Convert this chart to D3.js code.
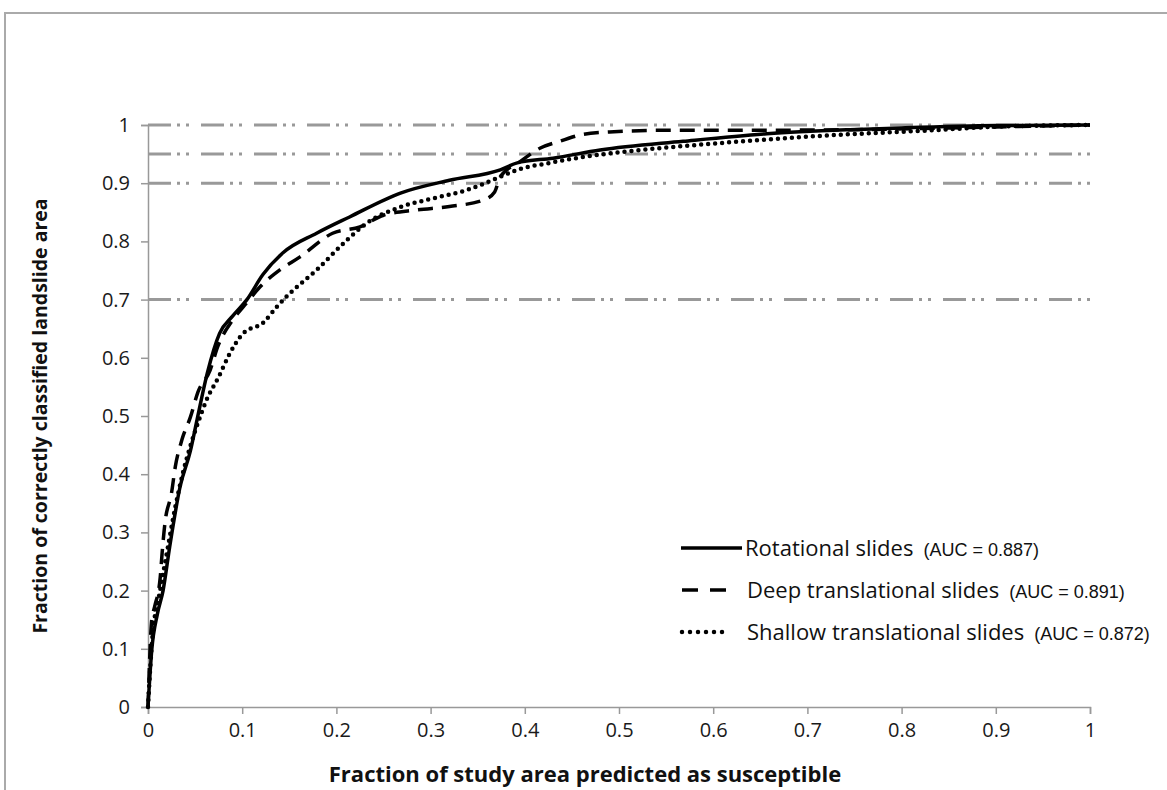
<!DOCTYPE html>
<html>
<head>
<meta charset="utf-8">
<script src="https://cdn.jsdelivr.net/npm/d3@7"></script>
<style>
  body { margin: 0; background: #fff; }
  svg { display: block; font-family: "Open Sans", sans-serif; }
</style>
</head>
<body>
<svg width="1167" height="790"></svg>
<script>
// ROC-style success curves
const rotX = [0, 0.004, 0.010, 0.016, 0.023, 0.034, 0.045, 0.052, 0.063, 0.076, 0.090, 0.105, 0.122, 0.143, 0.179, 0.214, 0.268, 0.32, 0.374, 0.392, 0.43, 0.48, 0.568, 0.657, 0.745, 0.8, 0.9, 1];
const rotY = [0, 0.098, 0.16, 0.20, 0.275, 0.378, 0.44, 0.493, 0.574, 0.642, 0.672, 0.70, 0.743, 0.78, 0.814, 0.842, 0.883, 0.905, 0.923, 0.935, 0.943, 0.957, 0.972, 0.985, 0.992, 0.995, 0.999, 1];

const deepX = [0, 0.004, 0.007, 0.013, 0.015, 0.018, 0.025, 0.029, 0.036, 0.045, 0.053, 0.066, 0.074, 0.09, 0.105, 0.119, 0.14, 0.161, 0.196, 0.225, 0.25, 0.285, 0.32, 0.356, 0.368, 0.374, 0.395, 0.416, 0.437, 0.462, 0.49, 0.55, 0.64, 0.75, 0.85, 1];
const deepY = [0, 0.15, 0.172, 0.223, 0.265, 0.316, 0.368, 0.413, 0.459, 0.498, 0.541, 0.579, 0.619, 0.665, 0.695, 0.722, 0.751, 0.773, 0.814, 0.825, 0.845, 0.854, 0.86, 0.871, 0.885, 0.911, 0.937, 0.96, 0.972, 0.984, 0.988, 0.991, 0.991, 0.992, 0.995, 1];

const shalX = [0, 0.005, 0.011, 0.02, 0.029, 0.037, 0.046, 0.053, 0.062, 0.075, 0.087, 0.101, 0.122, 0.137, 0.147, 0.179, 0.211, 0.232, 0.268, 0.303, 0.338, 0.374, 0.392, 0.427, 0.462, 0.5, 0.6, 0.7, 0.833, 0.9, 1];
const shalY = [0, 0.127, 0.184, 0.265, 0.344, 0.402, 0.454, 0.488, 0.527, 0.567, 0.608, 0.642, 0.66, 0.688, 0.705, 0.751, 0.802, 0.831, 0.859, 0.874, 0.888, 0.911, 0.923, 0.935, 0.945, 0.953, 0.968, 0.98, 0.991, 0.997, 1];

const refLevels = [1, 0.95, 0.9, 0.7];
const ticks = d3.range(0, 1.01, 0.1).map(d => +d.toFixed(1));

const seriesNames = ['Rotational slides', 'Deep translational slides', 'Shallow translational slides'];
const aucLabels = ['(AUC = 0.887)', '(AUC = 0.891)', '(AUC = 0.872)'];

const svg = d3.select('svg');

const x = d3.scaleLinear().domain([0, 1]).range([148, 1090]);
const y = d3.scaleLinear().domain([0, 1]).range([707, 125]);

// outer frame (only top and left edges show)
svg.append('path')
    .attr('d', 'M5,790 L5,13 L1167,13')
    .attr('fill', 'none')
    .attr('stroke', '#aaa')
    .attr('stroke-width', 2);

// reference lines
svg.selectAll('.ref')
    .data(refLevels)
    .enter().append('line')
        .attr('x1', x(0))
        .attr('x2', x(1))
        .attr('y1', d => y(d))
        .attr('y2', d => y(d))
        .attr('stroke', '#999')
        .attr('stroke-width', 3)
        .attr('stroke-dasharray', '23,6,3,6,3,12');

// axes
const xAxis = svg.append('g')
    .attr('transform', `translate(0,${y(0)})`)
    .call(d3.axisBottom(x).tickValues(ticks).tickFormat(d3.format('')).tickSize(7).tickPadding(9));

const yAxis = svg.append('g')
    .attr('transform', `translate(${x(0)},0)`)
    .call(d3.axisLeft(y).tickValues(ticks).tickFormat(d3.format('')).tickSize(7).tickPadding(11));

[xAxis, yAxis].forEach(g => {
    g.select('.domain').attr('stroke', '#999').attr('stroke-width', 1.5);
    g.selectAll('.tick line').attr('stroke', '#999').attr('stroke-width', 1.5);
    g.selectAll('.tick text')
        .attr('fill', '#1a1a1a')
        .style('font-size', '20px')
        .style('font-family', '"Open Sans", sans-serif');
});

// axis titles
svg.append('text')
    .attr('x', 585)
    .attr('y', 782)
    .attr('text-anchor', 'middle')
    .style('font-size', '22px')
    .style('font-weight', 'bold')
    .attr('fill', '#111')
    .text('Fraction of study area predicted as susceptible');

svg.append('text')
    .attr('transform', 'translate(47,416) rotate(-90)')
    .attr('text-anchor', 'middle')
    .style('font-size', '19.5px')
    .style('font-weight', 'bold')
    .attr('fill', '#111')
    .text('Fraction of correctly classified landslide  area');

// curves
const line = d3.line()
    .x(d => x(d[0]))
    .y(d => y(d[1]))
    .curve(d3.curveMonotoneX);

const styles = [
    { dash: null, cap: 'butt', width: 3.5 },
    { dash: '15,9', cap: 'butt', width: 3.5 },
    { dash: '0,7', cap: 'round', width: 4.5 }
];

const series = [
    d3.zip(rotX, rotY),
    d3.zip(deepX, deepY),
    d3.zip(shalX, shalY)
];

svg.selectAll('.curve')
    .data(series)
    .enter().append('path')
        .attr('class', 'curve')
        .attr('d', line)
        .attr('fill', 'none')
        .attr('stroke', '#000')
        .attr('stroke-width', (d, i) => styles[i].width)
        .attr('stroke-linecap', (d, i) => styles[i].cap)
        .attr('stroke-linejoin', 'round')
        .attr('stroke-dasharray', (d, i) => styles[i].dash);

// legend
const legendRows = [548, 590, 632];
const legendLine = [[681, 742, null], [682, 728, '16,12'], [682, 730, '0,8']];

const rows = svg.append('g').selectAll('g')
    .data(seriesNames)
    .enter().append('g')
        .attr('transform', (d, i) => `translate(0,${legendRows[i]})`);

rows.append('line')
    .attr('x1', (d, i) => legendLine[i][0])
    .attr('x2', (d, i) => legendLine[i][1])
    .attr('stroke', '#000')
    .attr('stroke-width', (d, i) => styles[i].width)
    .attr('stroke-linecap', (d, i) => styles[i].cap)
    .attr('stroke-dasharray', (d, i) => legendLine[i][2]);

rows.append('text')
    .attr('x', (d, i) => i === 0 ? 745 : 747)
    .attr('y', 8)
    .style('font-size', '22px')
    .attr('fill', '#111')
    .text(d => d)
  .append('tspan')
    .attr('dx', 10)
    .style('font-size', '18px')
    .style('font-family', '"Liberation Sans", Arial, sans-serif')
    .text((d, i) => aucLabels[i]);
</script>
</body>
</html>
